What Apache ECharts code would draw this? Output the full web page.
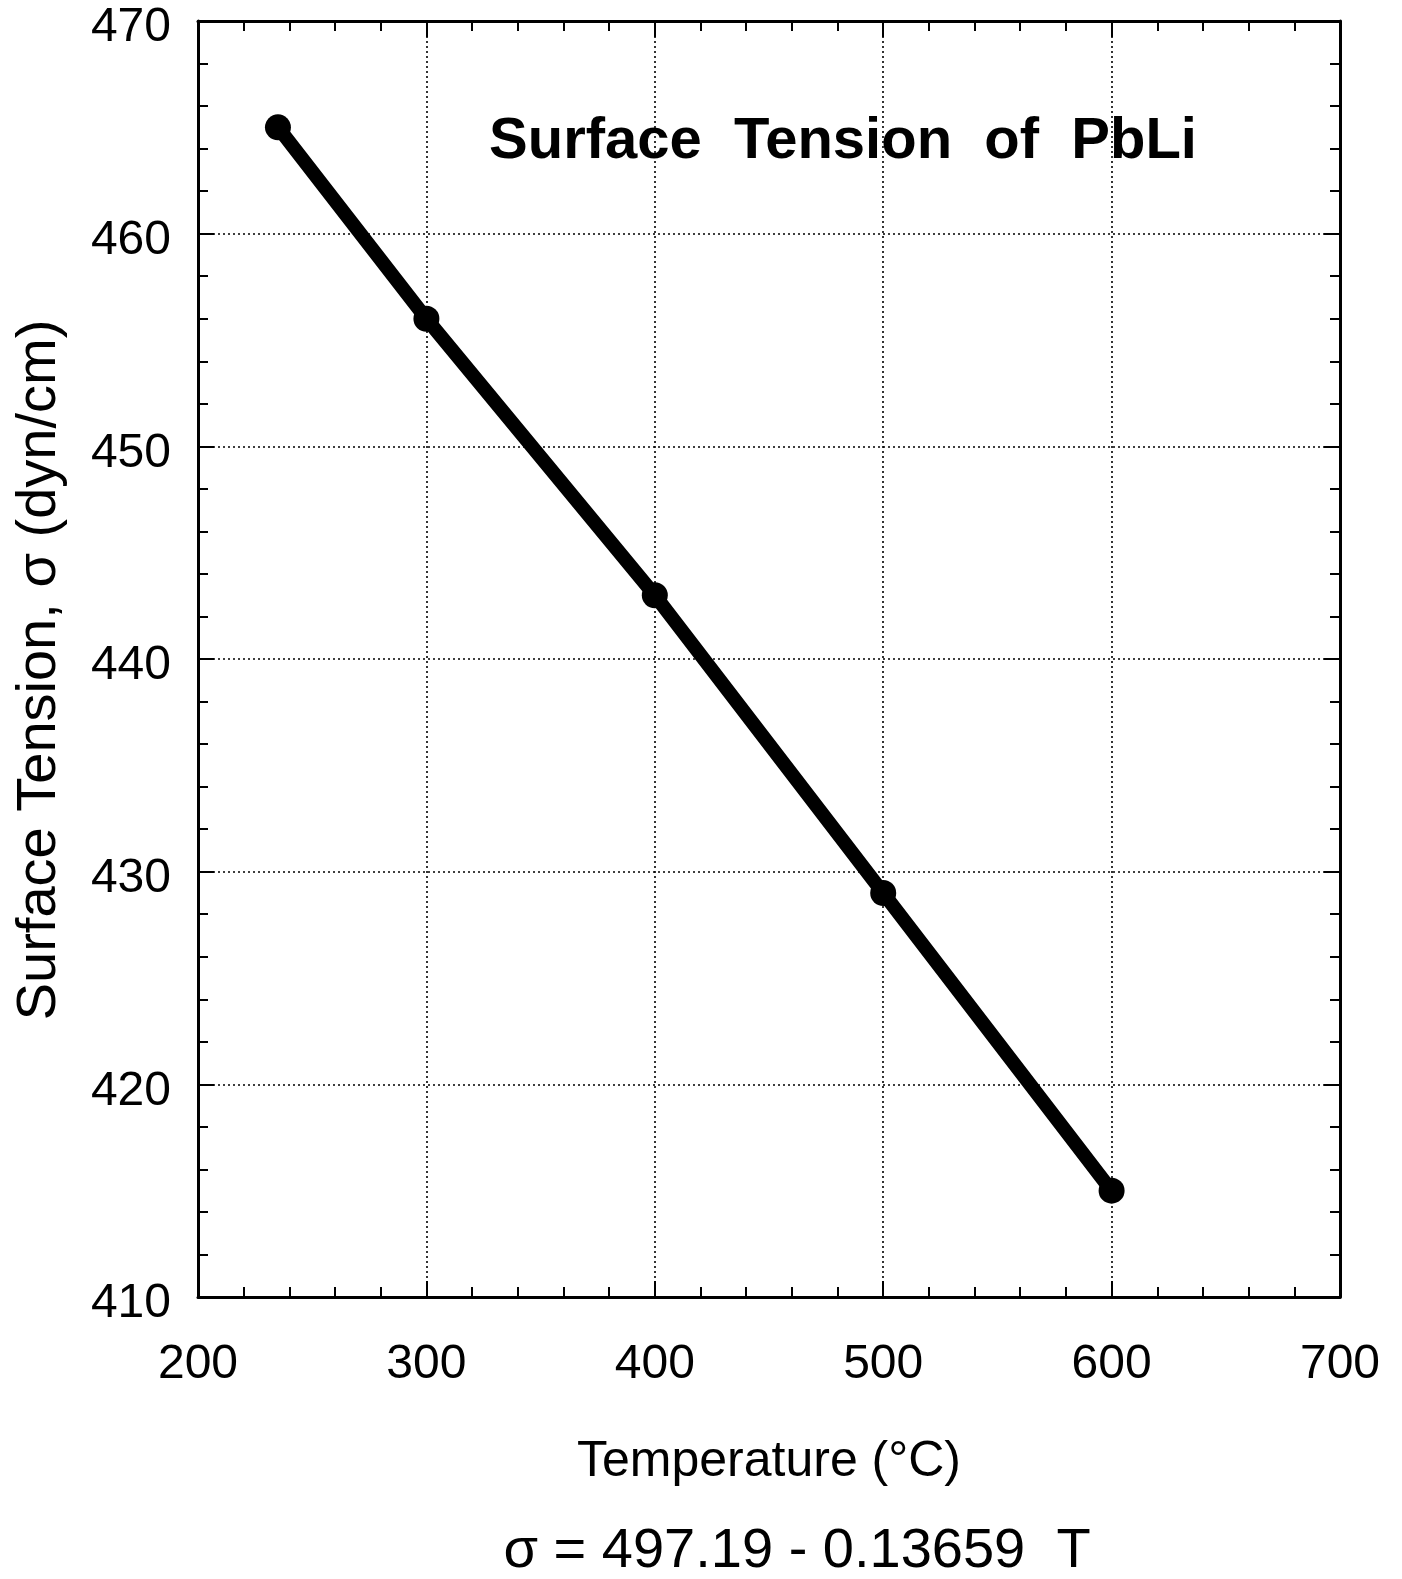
<!DOCTYPE html>
<html>

<head>
    <meta charset="utf-8">
    <title>Surface Tension of PbLi</title>
    <script src="https://cdn.jsdelivr.net/npm/echarts@6/dist/echarts.min.js"></script>
    <style>
        html, body { margin: 0; padding: 0; background: #fff; }
    </style>
</head>

<body>
    <div id="chart" style="width: 1402px;height:1579px;"></div>
    <script type="text/javascript">
        // measured points
        var temperature = [235, 300, 400, 500, 600];
        var tension = [465, 456, 443, 429, 415];
        var titleText = 'Surface  Tension  of  PbLi';
        var yTitle = 'Surface Tension, σ (dyn/cm)';
        var fitText = 'σ = 497.19 - 0.13659  T';

        var font = '"Liberation Sans", Arial, sans-serif';
        var points = temperature.map(function(t, i) {
            return [t, tension[i]];
        });

        function frameAxis(extra) {
            var base = {
                axisLine: { show: true, onZero: false, lineStyle: { color: '#000', width: 3 } },
                axisTick: { show: true, inside: true, length: 16, lineStyle: { color: '#000', width: 2 } },
                minorTick: { show: true, splitNumber: 5, length: 10, lineStyle: { color: '#000', width: 2 } },
                splitLine: { show: false },
                axisLabel: { show: false }
            };
            return Object.assign(base, extra);
        }

        var chart = echarts.init(document.getElementById('chart'));
        var option = {
            animation: false,
            backgroundColor: '#fff',
            grid: {
                left: 198,
                right: 62,
                top: 21,
                bottom: 282
            },
            xAxis: [frameAxis({
                type: 'value',
                min: 200,
                max: 700,
                interval: 100,
                position: 'bottom',
                name: 'Temperature (°C)',
                nameLocation: 'middle',
                nameGap: 140,
                nameTextStyle: { fontFamily: font, fontSize: 50, color: '#000' },
                axisLabel: {
                    show: true,
                    margin: 44,
                    fontFamily: font,
                    fontSize: 48,
                    color: '#000'
                },
                splitLine: { show: true, lineStyle: { color: '#000', width: 1.6, type: [2, 3] } }
            }), frameAxis({
                type: 'value',
                min: 200,
                max: 700,
                interval: 100,
                position: 'top'
            })],
            yAxis: [frameAxis({
                type: 'value',
                min: 410,
                max: 470,
                interval: 10,
                position: 'left',
                axisLabel: {
                    show: true,
                    margin: 27,
                    verticalAlign: 'top',
                    lineHeight: 14,
                    fontFamily: font,
                    fontSize: 48,
                    color: '#000'
                },
                splitLine: { show: true, lineStyle: { color: '#000', width: 1.6, type: [2, 3] } }
            }), frameAxis({
                type: 'value',
                min: 410,
                max: 470,
                interval: 10,
                position: 'right'
            })],
            graphic: [{
                type: 'text',
                x: 843,
                y: 142,
                style: {
                    text: titleText,
                    fontFamily: font,
                    fontWeight: 'bold',
                    fontSize: 58,
                    fill: '#000',
                    textAlign: 'center',
                    textVerticalAlign: 'middle'
                }
            }, {
                type: 'text',
                x: 40,
                y: 670,
                rotation: Math.PI / 2,
                style: {
                    text: yTitle,
                    fontFamily: font,
                    fontSize: 56,
                    fill: '#000',
                    textAlign: 'center',
                    textVerticalAlign: 'middle'
                }
            }, {
                type: 'text',
                x: 797,
                y: 1552,
                style: {
                    text: fitText,
                    fontFamily: font,
                    fontSize: 56,
                    fill: '#000',
                    textAlign: 'center',
                    textVerticalAlign: 'middle'
                }
            }],
            series: [{
                type: 'line',
                data: points,
                symbol: 'circle',
                symbolSize: 26,
                lineStyle: { color: '#000', width: 14 },
                itemStyle: { color: '#000' }
            }]
        };
        chart.setOption(option);
    </script>
</body>

</html>
